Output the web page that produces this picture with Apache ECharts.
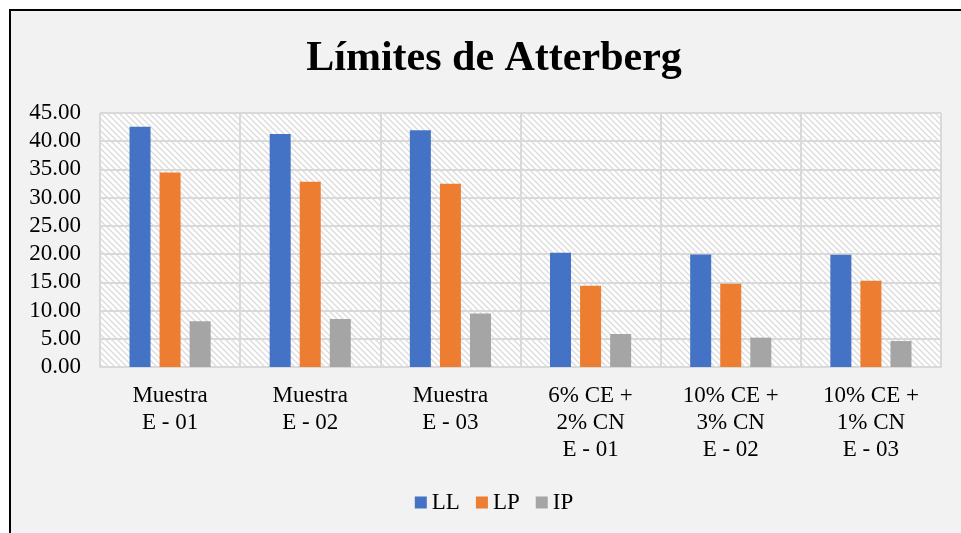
<!DOCTYPE html>
<html>
<head>
<meta charset="utf-8">
<script src="https://cdn.jsdelivr.net/npm/echarts@6/dist/echarts.min.js"></script>
<style>
  html, body { margin: 0; padding: 0; background: #ffffff; overflow: hidden; width: 961px; height: 533px; }
  #frame { position: absolute; left: 9px; top: 9px; width: 966px; height: 540px; border: 2px solid #000; background: #F2F2F2; }
  #chart { width: 966px; height: 540px; }
</style>
</head>
<body>
<div id="frame"><div id="chart"></div></div>
<script>
const categories = ['Muestra\nE - 01', 'Muestra\nE - 02', 'Muestra\nE - 03', '6% CE +\n2% CN\nE - 01', '10% CE +\n3% CN\nE - 02', '10% CE +\n1% CN\nE - 03'];
const seriesNames = ['LL', 'LP', 'IP'];
const valuesLL = [42.55, 41.30, 41.95, 20.25, 19.95, 19.90];
const valuesLP = [34.45, 32.80, 32.45, 14.40, 14.75, 15.30];
const valuesIP = [8.10, 8.50, 9.50, 5.85, 5.20, 4.60];
const colors = ['#4472C4', '#ED7D31', '#A5A5A5'];

function hatch() {
  const n = 6;
  const c = document.createElement('canvas');
  c.width = n; c.height = n;
  const g = c.getContext('2d');
  g.fillStyle = '#ffffff';
  g.fillRect(0, 0, n, n);
  g.strokeStyle = '#dcdcdc';
  g.lineWidth = 1.4;
  g.beginPath();
  g.moveTo(-1, -1); g.lineTo(n + 1, n + 1);
  g.moveTo(-1, n - 1); g.lineTo(1, n + 1);
  g.moveTo(n - 1, -1); g.lineTo(n + 1, 1);
  g.stroke();
  return c;
}

const font = 'Liberation Serif, Times New Roman, serif';
const chart = echarts.init(document.getElementById('chart'), null, { renderer: 'canvas' });
chart.setOption({
  backgroundColor: '#F2F2F2',
  animation: false,
  title: {
    text: 'Límites de Atterberg',
    left: 'center',
    top: 27,
    padding: 0,
    textStyle: { fontFamily: font, fontSize: 42, fontWeight: 'bold', color: '#000' }
  },
  legend: {
    data: seriesNames,
    bottom: 32,
    left: 'center',
    icon: 'rect',
    itemWidth: 12,
    itemHeight: 12,
    itemGap: 16,
    textStyle: { fontFamily: font, fontSize: 23, color: '#000', padding: [2, 0, 0, 0] }
  },
  grid: {
    show: true,
    left: 89,
    right: 36,
    top: 102,
    bottom: 184,
    backgroundColor: { image: hatch(), repeat: 'repeat' },
    borderWidth: 0
  },
  xAxis: {
    type: 'category',
    data: categories,
    axisLine: { show: true, lineStyle: { color: '#D9D9D9', width: 2 } },
    axisTick: { show: false },
    splitLine: { show: true, lineStyle: { color: '#D9D9D9', width: 2 } },
    axisLabel: { interval: 0, margin: 15, fontFamily: font, fontSize: 23, lineHeight: 27, color: '#000' }
  },
  yAxis: {
    type: 'value',
    min: 0,
    max: 45,
    interval: 5,
    axisLine: { show: false },
    axisTick: { show: false },
    splitLine: { show: true, lineStyle: { color: '#D9D9D9', width: 2 } },
    axisLabel: { margin: 19, fontFamily: font, fontSize: 23, color: '#000', formatter: v => v.toFixed(2) }
  },
  series: [
    { name: seriesNames[0], type: 'bar', data: valuesLL, barWidth: '15%', barGap: '43%', itemStyle: { color: colors[0] } },
    { name: seriesNames[1], type: 'bar', data: valuesLP, barWidth: '15%', barGap: '43%', itemStyle: { color: colors[1] } },
    { name: seriesNames[2], type: 'bar', data: valuesIP, barWidth: '15%', barGap: '43%', itemStyle: { color: colors[2] } }
  ]
});
</script>
</body>
</html>
